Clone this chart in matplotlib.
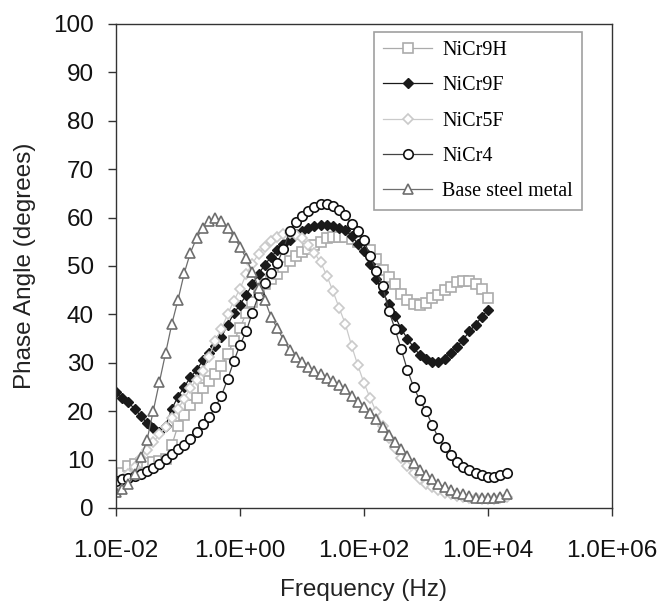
import matplotlib
matplotlib.use("Agg")
import matplotlib.pyplot as plt
from matplotlib.ticker import FixedLocator, FuncFormatter

# frequency sweep, 10 points per decade (Hz)
freq = [0.01, 0.0126, 0.0158, 0.02, 0.0251, 0.0316, 0.0398, 0.0501, 0.0631, 0.0794,
        0.1, 0.126, 0.158, 0.2, 0.251, 0.316, 0.398, 0.501, 0.631, 0.794,
        1.0, 1.26, 1.58, 2.0, 2.51, 3.16, 3.98, 5.01, 6.31, 7.94,
        10.0, 12.6, 15.8, 20.0, 25.1, 31.6, 39.8, 50.1, 63.1, 79.4,
        100.0, 126.0, 158.0, 200.0, 251.0, 316.0, 398.0, 501.0, 631.0, 794.0,
        1000.0, 1260.0, 1580.0, 2000.0, 2510.0, 3160.0, 3980.0, 5010.0, 6310.0, 7940.0,
        10000.0, 12600.0, 15800.0, 20000.0]

# phase angle (degrees)
nicr9h = [4.0, 7.2, 8.7, 9.0, 9.2, 9.4, 9.6, 9.8, 10.2, 13.0,
          17.0, 19.2, 21.2, 22.8, 24.8, 26.2, 27.6, 29.3, 31.8, 34.5,
          37.2, 40.3, 42.5, 44.6, 46.2, 47.4, 48.4, 49.8, 51.0, 52.0,
          52.9, 53.6, 54.3, 55.0, 55.7, 56.0, 56.0, 56.0, 55.6, 55.0,
          54.3, 53.3, 51.5, 49.2, 47.8, 46.2, 44.2, 42.9, 42.2, 42.0,
          42.4, 43.3, 44.0, 45.0, 45.6, 46.6, 47.0, 46.9, 46.3, 45.3,
          43.4]
nicr9f = [24.0, 22.8, 21.8, 20.5, 19.0, 17.6, 16.5, 15.7, 17.0, 20.5,
          23.0, 25.0, 27.0, 28.5, 30.5, 32.0, 33.5, 35.3, 37.8, 40.2,
          42.0, 44.0, 46.2, 48.3, 50.3, 51.8, 53.3, 54.5, 55.4, 56.6,
          57.3, 57.9, 58.3, 58.5, 58.5, 58.2, 57.9, 57.4, 56.2, 54.6,
          53.2, 50.5, 47.3, 44.6, 42.2, 39.6, 37.0, 35.0, 33.2, 31.6,
          30.8, 30.2, 30.2, 30.8, 32.1, 33.3, 34.8, 36.5, 37.9, 39.5,
          41.0]
nicr5f = [4.5, 5.5, 7.0, 8.5, 10.3, 12.0, 13.6, 15.2, 16.8, 18.6,
          20.5, 22.5, 24.8, 26.5, 28.3, 31.3, 34.5, 37.0, 40.0, 42.8,
          45.3, 48.3, 50.5, 52.5, 54.0, 55.2, 56.0, 56.6, 56.8, 56.5,
          55.7, 54.3, 52.7, 50.8, 48.0, 44.8, 41.3, 38.0, 33.5, 29.5,
          25.8, 22.7, 19.8, 17.0, 14.5, 12.3, 10.3, 8.6, 7.2, 6.0,
          5.0, 4.3, 3.7, 3.2, 2.8, 2.5, 2.3, 2.1, 2.0, 1.9,
          1.9, 1.9, 2.0, 2.2]
nicr4 = [5.6, 5.9, 6.3, 6.7, 7.0, 7.6, 8.3, 9.1, 10.1, 11.2,
         12.1, 13.0, 14.2, 15.8, 17.3, 18.8, 20.8, 23.2, 26.6, 30.3,
         33.7, 36.5, 40.3, 44.0, 46.5, 48.5, 50.6, 53.5, 57.2, 59.1,
         60.4, 61.4, 62.2, 62.8, 62.8, 62.3, 61.6, 60.6, 58.6, 57.2,
         55.3, 52.0, 49.0, 45.8, 40.8, 37.0, 32.8, 28.5, 25.0, 22.3,
         20.0, 17.2, 14.5, 12.6, 11.0, 9.5, 8.5, 7.9, 7.2, 6.8,
         6.4, 6.4, 6.8, 7.2]
base_steel = [3.3, 4.0, 5.0, 7.0, 10.5, 14.0, 20.0, 26.0, 32.0, 38.0,
              43.0, 48.5, 52.7, 55.8, 57.8, 59.2, 60.0, 59.3, 57.8, 56.0,
              54.0, 51.6, 48.8, 45.5, 43.0, 39.5, 37.2, 34.8, 32.6, 31.2,
              30.1, 29.2, 28.3, 27.6, 26.8, 26.2, 25.5, 24.5, 23.2, 22.0,
              20.8, 19.6, 18.3, 16.7, 15.0, 13.6, 12.2, 10.7, 9.3, 7.9,
              6.8, 5.9, 5.0, 4.3, 3.7, 3.2, 2.8, 2.4, 2.1, 2.0,
              2.0, 2.0, 2.3, 2.8]

xticks = [1e-2, 1e0, 1e2, 1e4, 1e6]
yticks = list(range(0, 101, 10))

plt.rcParams["font.family"] = "Liberation Sans"

fig = plt.figure(figsize=(6.64, 6.04), dpi=100)
ax = fig.add_axes([116 / 664, 96 / 604, 496 / 664, 484 / 604])

ax.plot(freq[:len(nicr9h)], nicr9h, color="#ababab", lw=0.9, marker="s", ms=6.6,
        mfc="white", mec="#ababab", mew=1.2, label="NiCr9H")
ax.plot(freq[:len(nicr9f)], nicr9f, color="#1a1a1a", lw=0.9, marker="D", ms=5.3,
        mfc="#1a1a1a", mec="#1a1a1a", mew=1.0, label="NiCr9F")
ax.plot(freq, nicr5f, color="#cacaca", lw=0.9, marker="D", ms=5.3,
        mfc="white", mec="#cacaca", mew=1.2, label="NiCr5F")
ax.plot(freq, nicr4, color="#444444", lw=0.9, marker="o", ms=6.8,
        mfc="white", mec="#111111", mew=1.2, label="NiCr4")
ax.plot(freq, base_steel, color="#6e6e6e", lw=0.9, marker="^", ms=7.5,
        mfc="white", mec="#6e6e6e", mew=1.2, label="Base steel metal")

ax.set_xscale("log")
ax.set_xlim(1e-2, 1e6)
ax.set_ylim(0, 100)
ax.xaxis.set_major_locator(FixedLocator(xticks))
ax.xaxis.set_minor_locator(FixedLocator([]))
ax.xaxis.set_major_formatter(FuncFormatter(lambda v, p: "%.1E" % v))
ax.set_yticks(yticks)

for s in ax.spines.values():
    s.set_color("#333333")
    s.set_linewidth(1.0)
ax.tick_params(direction="out", length=6, width=1.0, color="#333333",
               labelsize=17.5, labelcolor="#111111")
ax.tick_params(axis="y", pad=10)
ax.tick_params(axis="x", pad=17)

ax.set_xlabel("Frequency (Hz)", fontsize=17.5, labelpad=12, color="#222222")
ax.set_ylabel("Phase Angle (degrees)", fontsize=17.5, labelpad=12, color="#222222")

leg = ax.legend(loc="upper left", bbox_to_anchor=(374 / 664, 1 - 32 / 604),
                bbox_transform=fig.transFigure, frameon=True, fancybox=False,
                prop={"family": "Liberation Serif", "size": 14.5},
                handlelength=2.45, handletextpad=0.5, labelspacing=0.8,
                borderpad=0.45, borderaxespad=0)
leg.get_frame().set_edgecolor("#888888")
leg.get_frame().set_linewidth(1.2)

fig.savefig("out.png", dpi=100)
